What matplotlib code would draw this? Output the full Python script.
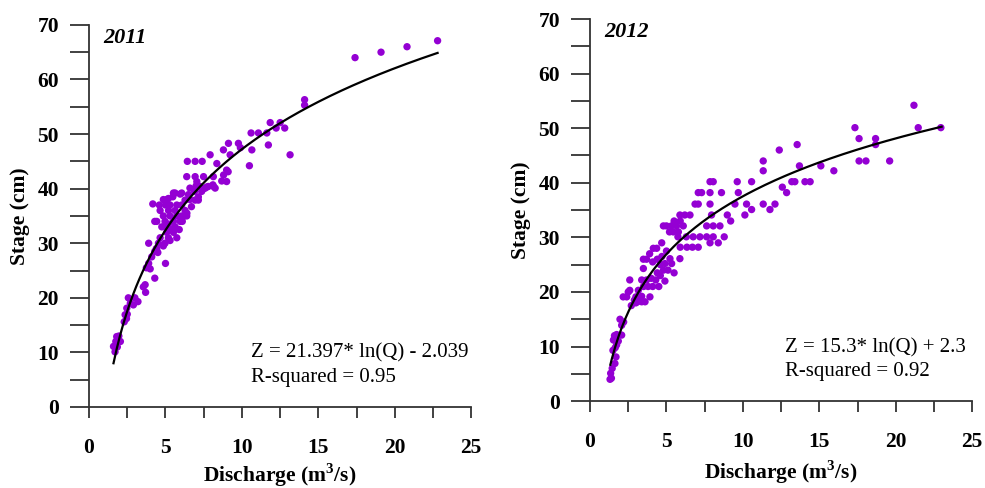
import numpy as np
import matplotlib
matplotlib.use('Agg')
import matplotlib.pyplot as plt
from matplotlib.ticker import MultipleLocator

plt.rcParams['font.family'] = ['Liberation Serif', 'DejaVu Serif']
plt.rcParams['mathtext.fontset'] = 'custom'
plt.rcParams['mathtext.bf'] = 'Liberation Serif:bold'
plt.rcParams['mathtext.rm'] = 'Liberation Serif'

q_2011 = [1.6, 1.7, 1.75, 1.81, 1.9, 1.95, 1.85, 2.05, 2.3, 2.36,
          2.45, 2.5, 2.47, 2.57, 2.7, 2.9, 3.2, 3.0, 3.67, 3.7,
          3.55, 3.75, 3.9, 4.0, 4.1, 3.9, 4.3, 4.3, 4.4, 4.5,
          5.0, 4.17, 4.3, 4.6, 4.86, 5.08, 5.52, 5.96, 5.48, 5.0,
          5.3, 5.74, 6.06, 4.65, 5.2, 5.63, 6.28, 4.86, 5.3, 5.74,
          6.06, 6.39, 4.43, 4.97, 5.52, 5.96, 4.76, 5.08, 5.63, 5.08,
          5.52, 4.65, 5.19, 5.74, 4.54, 4.97, 5.3, 4.43, 4.86, 5.2,
          5.4, 5.9, 6.1, 6.17, 6.4, 6.7, 6.94, 7.15, 7.37, 7.6,
          7.8, 8.14, 7.26, 6.6, 6.28, 6.5, 7.05, 6.6, 6.9, 7.5,
          7.0, 5.63, 6.06, 5.19, 7.15, 6.39, 6.94, 7.49, 6.43, 6.94,
          7.4, 7.92, 8.36, 8.13, 8.68, 9.0, 8.1, 8.25, 7.7, 8.8,
          9.0, 9.1, 8.79, 9.23, 9.12, 9.77, 9.9, 10.49, 10.65, 10.6,
          11.08, 11.63, 11.73, 12.24, 12.8, 11.85, 12.5, 13.15, 14.1, 14.1,
          17.4, 19.1, 20.8, 22.8]
z_2011 = [11.1, 10.1, 12.0, 12.9, 12.0, 13.0, 11.0, 12.0, 15.6, 16.9,
          16.2, 17.0, 18.1, 20.0, 19.0, 18.7, 19.3, 20.0, 22.4, 21.0,
          22.0, 25.5, 26.3, 25.3, 27.5, 30.0, 23.6, 28.5, 29.0, 28.3,
          26.3, 37.2, 34.0, 37.0, 38.0, 38.0, 39.2, 39.0, 38.5, 37.0,
          37.0, 37.0, 37.0, 36.0, 36.0, 36.0, 36.0, 35.0, 35.0, 35.0,
          35.0, 35.0, 34.0, 34.0, 34.0, 34.0, 33.0, 33.0, 33.0, 32.0,
          32.0, 31.0, 31.0, 31.0, 30.0, 30.0, 30.5, 29.0, 29.5, 33.5,
          32.5, 32.5, 34.0, 34.9, 35.5, 36.7, 37.9, 38.5, 39.5, 40.1,
          40.4, 40.4, 40.4, 40.1, 37.9, 38.9, 41.3, 38.0, 39.5, 40.0,
          40.5, 39.2, 39.2, 38.2, 37.9, 42.2, 42.2, 42.2, 45.0, 45.0,
          45.0, 46.2, 44.6, 42.2, 41.4, 41.3, 40.7, 40.1, 40.3, 42.5,
          43.4, 43.1, 47.1, 46.2, 48.3, 48.3, 47.5, 44.2, 47.1, 50.2,
          50.2, 50.2, 48.0, 51.1, 51.1, 52.1, 52.1, 46.2, 55.3, 56.3,
          64.0, 65.0, 66.0, 67.1]

# 2012 observations
q_2012 = [1.31, 1.4, 1.35, 1.45, 1.63, 1.7, 1.5, 1.65, 1.74, 1.53,
          1.74, 1.6, 1.85, 1.96, 2.07, 2.07, 2.2, 2.17, 2.4, 2.5,
          2.6, 2.6, 2.7, 2.9, 3.0, 3.16, 3.38, 3.0, 3.3, 3.1,
          3.38, 3.6, 3.92, 3.38, 3.7, 3.5, 3.8, 4.1, 4.0, 4.3,
          4.5, 3.49, 3.49, 3.7, 3.9, 4.14, 4.36, 4.69, 4.1, 4.4,
          4.6, 4.9, 5.23, 5.34, 4.8, 5.1, 5.5, 4.6, 4.9, 4.4,
          4.7, 5.0, 5.88, 5.9, 6.34, 6.7, 5.75, 6.3, 6.75, 7.19,
          7.08, 7.63, 8.06, 7.85, 8.39, 8.78, 5.45, 5.78, 5.2, 5.0,
          4.8, 5.33, 5.66, 6.1, 5.5, 5.9, 5.88, 6.2, 6.54, 6.87,
          7.08, 7.3, 7.08, 7.85, 7.85, 7.95, 7.63, 8.06, 8.5, 7.85,
          8.06, 8.6, 8.98, 9.2, 9.48, 9.63, 9.7, 10.13, 10.24, 10.57,
          10.57, 11.33, 11.33, 11.33, 11.77, 12.1, 12.38, 12.58, 12.86, 13.2,
          13.4, 13.55, 13.7, 14.06, 14.4, 15.1, 15.95, 17.33, 17.6, 17.6,
          18.05, 18.68, 18.68, 19.6, 21.19, 21.47, 22.95]
z_2012 = [4.0, 4.2, 5.1, 6.0, 6.9, 8.1, 9.3, 9.8, 10.3, 11.2,
          12.2, 12.0, 11.0, 15.0, 12.1, 13.9, 14.5, 19.1, 19.1, 20.0,
          22.2, 20.3, 17.5, 18.5, 18.0, 20.3, 19.2, 19.1, 19.1, 18.2,
          18.2, 18.2, 19.1, 22.2, 22.2, 21.0, 21.0, 21.0, 22.5, 22.2,
          21.0, 24.3, 26.0, 26.0, 27.0, 28.0, 28.0, 29.0, 25.5, 26.0,
          25.0, 25.2, 26.1, 25.2, 24.0, 24.0, 23.5, 23.0, 22.0, 23.5,
          26.5, 27.5, 26.1, 28.2, 28.2, 28.2, 30.1, 30.1, 30.1, 30.1,
          28.2, 30.1, 30.1, 29.0, 29.0, 30.1, 31.0, 31.0, 31.0, 32.1,
          32.1, 32.1, 32.1, 32.1, 33.0, 33.0, 34.1, 34.1, 34.1, 36.1,
          36.1, 38.2, 38.2, 38.2, 36.1, 34.1, 32.1, 32.1, 32.1, 40.2,
          40.2, 38.2, 34.1, 33.0, 36.1, 40.2, 38.2, 34.1, 36.1, 35.1,
          40.2, 36.1, 42.2, 44.0, 35.1, 36.1, 46.0, 39.2, 38.2, 40.2,
          40.2, 47.0, 43.1, 40.2, 40.2, 43.1, 42.2, 50.1, 48.1, 44.0,
          44.0, 48.1, 47.0, 44.0, 54.2, 50.1, 50.1]

# fitted log curves Z = a*ln(Q) + b
fit_2011 = (21.397, -2.039, 1.6, 22.8)
fit_2012 = (15.3, 2.3, 1.33, 23.0)

panels = [
    ('2011', q_2011, z_2011, fit_2011,
     'Z = 21.397* ln(Q) - 2.039\nR-squared = 0.95', 10.6, 7.7,
     [0.0904, 0.166, 0.388, 0.783], 2.5),
    ('2012', q_2012, z_2012, fit_2012,
     'Z = 15.3* ln(Q) + 2.3\nR-squared = 0.92', 12.76, 7.6,
     [0.599, 0.178, 0.388, 0.783], 5),
]

fig = plt.figure(figsize=(9.85, 4.88), dpi=100)
axis_col = '#333333'

for year, q, z, fit, eq, tx, ty, rect, xpad in panels:
    ax = fig.add_axes(rect)
    ax.scatter(q, z, s=28, color='#9400d3', edgecolors='none', zorder=2)
    a, b, q0, q1 = fit
    xs = np.linspace(q0, q1, 200)
    ax.plot(xs, a * np.log(xs) + b, color='black', lw=1.6, zorder=3)

    ax.set_xlim(0, 25)
    ax.set_ylim(0, 70)
    for s in ['top', 'right']:
        ax.spines[s].set_visible(False)
    for s in ['left', 'bottom']:
        ax.spines[s].set_color(axis_col)
        ax.spines[s].set_linewidth(1.3)

    ax.xaxis.set_major_locator(MultipleLocator(5))
    ax.xaxis.set_minor_locator(MultipleLocator(2.5))
    ax.yaxis.set_major_locator(MultipleLocator(10))
    ax.yaxis.set_minor_locator(MultipleLocator(5))
    ax.tick_params(axis='x', which='both', direction='out', length=8,
                   width=1.3, color=axis_col, pad=14)
    ax.tick_params(axis='y', which='both', direction='out', length=13.7,
                   width=1.3, color=axis_col, pad=8)
    for lab in ax.get_xticklabels() + ax.get_yticklabels():
        lab.set_fontweight('bold')
        lab.set_fontsize(15.5)

    ax.set_xlabel('Discharge (m$^\\mathbf{3}$/s)', fontsize=15.5,
                  fontweight='bold', labelpad=xpad)
    ax.set_ylabel('Stage (cm)', fontsize=15.5, fontweight='bold', labelpad=5)

    ax.text(0.92, 67.6, year, fontsize=16, fontweight='bold',
            fontstyle='italic', va='center', ha='left')
    ax.text(tx, ty, eq, fontsize=15, va='center', ha='left',
            linespacing=1.35)

plt.savefig('out.png', dpi=100)
